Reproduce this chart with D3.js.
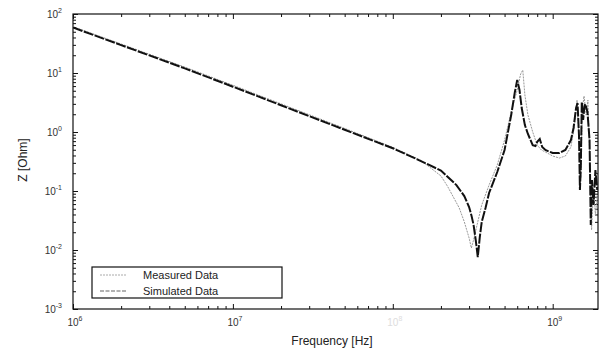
<!DOCTYPE html>
<html>
<head>
<meta charset="utf-8">
<script src="https://cdn.jsdelivr.net/npm/d3@7"></script>
<style>
  body { margin: 0; background: #fff; }
  text { font-family: 'Liberation Sans', Arial, sans-serif; }
</style>
</head>
<body>
<div id="container"></div>
<script>
// Simulated impedance (Hz, Ohm).
const freqSim = [1e6, 2e6, 5e6, 1e7, 2e7, 5e7, 1e8, 1.5e8, 2e8, 2.5e8, 2.8e8, 3.0e8,
  3.1e8, 3.2e8, 3.3e8, 3.4e8, 3.5e8, 3.6e8, 3.8e8, 4.0e8, 4.5e8, 5.0e8, 5.5e8, 5.8e8, 6.0e8,
  6.2e8, 6.4e8, 6.7e8, 7.0e8, 7.5e8, 7.8e8, 8.0e8, 8.3e8, 8.6e8, 9.0e8,
  1.0e9, 1.1e9, 1.2e9, 1.3e9, 1.35e9, 1.4e9, 1.43e9, 1.46e9, 1.48e9, 1.5e9,
  1.52e9, 1.55e9, 1.58e9, 1.6e9, 1.65e9, 1.7e9, 1.73e9, 1.76e9, 1.8e9, 1.85e9, 1.9e9];
const zSim = [59, 29.7, 12.0, 5.86, 2.84, 1.09, 0.53, 0.322, 0.222, 0.126, 0.082, 0.0536,
  0.039, 0.0266, 0.0148, 0.0076, 0.0166, 0.030, 0.0515, 0.0925, 0.21, 0.495, 1.94, 4.77, 7.6,
  5.15, 2.55, 1.31, 0.925, 0.60, 0.58, 0.68, 0.76, 0.557, 0.495,
  0.44, 0.44, 0.495, 0.73, 1.17, 2.55, 3.1, 0.89, 0.104, 0.276,
  3.22, 1.6, 2.76, 2.98, 2.18, 0.73, 0.0266, 0.153, 0.058, 0.227, 0.104];

// Measured impedance (Hz, Ohm).
const freqMeas = [1e6, 2e6, 5e6, 1e7, 2e7, 5e7, 1e8, 1.5e8, 2e8, 2.2e8, 2.6e8, 2.8e8,
  3.0e8, 3.1e8, 3.2e8, 3.4e8, 3.6e8, 4.0e8, 4.5e8, 5.0e8, 5.5e8, 6.0e8,
  6.3e8, 6.5e8, 6.7e8, 7.0e8, 7.5e8, 8.0e8, 8.5e8, 9.0e8,
  1.0e9, 1.1e9, 1.2e9, 1.3e9, 1.37e9, 1.42e9, 1.47e9, 1.5e9, 1.53e9, 1.57e9,
  1.62e9, 1.66e9, 1.7e9, 1.75e9, 1.8e9, 1.85e9, 1.9e9];
const zMeas = [61, 31, 12.6, 6.2, 3.0, 1.15, 0.55, 0.33, 0.18, 0.12, 0.052, 0.03,
  0.016, 0.0108, 0.0148, 0.03, 0.058, 0.126, 0.276, 0.73, 2.18, 5.15,
  9.6, 11.2, 4.24, 1.94, 1.0, 0.60, 0.495, 0.458,
  0.392, 0.362, 0.392, 0.557, 1.31, 3.48, 0.495, 0.166, 2.36, 4.07,
  1.94, 3.48, 0.495, 0.0218, 0.104, 0.039, 0.0855];

const xDecades = [6, 7, 8, 9];
const yDecades = [-3, -2, -1, 0, 1, 2];
const legendLabels = ['Measured Data', 'Simulated Data'];

const W = 603, H = 354;
const margin = { top: 14, right: 5, bottom: 45, left: 73 },
  width = W - margin.left - margin.right,
  height = H - margin.top - margin.bottom;

const svg = d3.select('#container').append('svg')
  .attr('width', W).attr('height', H);
const g = svg.append('g').attr('transform', `translate(${margin.left},${margin.top})`);

const x = d3.scaleLog().domain([1e6, 1.92e9]).range([0, width]);
const y = d3.scaleLog().domain([1e-3, 1e2]).range([height, 0]);

// minor + major tick values
const minors = (decs, dom) => {
  const out = [];
  decs.forEach(k => d3.range(2, 10).forEach(m => {
    const v = m * Math.pow(10, k);
    if (v > dom[0] && v < dom[1]) out.push(v);
  }));
  return out;
};
const xMaj = xDecades.map(k => Math.pow(10, k));
const yMaj = yDecades.map(k => Math.pow(10, k));
const xMin = minors([6, 7, 8, 9], x.domain());
const yMin = minors([-3, -2, -1, 0, 1], y.domain());

function drawAxis(axisGen, scale, vals, size, tr) {
  g.append('g').attr('transform', tr)
    .call(axisGen(scale).tickValues(vals).tickSize(size).tickFormat(''))
    .call(a => a.select('.domain').remove())
    .selectAll('line').attr('stroke', '#111');
}
drawAxis(d3.axisBottom, x, xMaj, -5, `translate(0,${height})`);
drawAxis(d3.axisBottom, x, xMin, -3, `translate(0,${height})`);
drawAxis(d3.axisTop, x, xMaj, -5, 'translate(0,0)');
drawAxis(d3.axisTop, x, xMin, -3, 'translate(0,0)');
drawAxis(d3.axisLeft, y, yMaj, -5, 'translate(0,0)');
drawAxis(d3.axisLeft, y, yMin, -3, 'translate(0,0)');
drawAxis(d3.axisRight, y, yMaj, -5, `translate(${width},0)`);
drawAxis(d3.axisRight, y, yMin, -3, `translate(${width},0)`);

// tick labels 10^k
const xl = g.append('g').selectAll('text').data(xDecades).enter().append('text')
  .attr('x', d => x(Math.pow(10, d)) + 2)
  .attr('y', height + 17)
  .attr('text-anchor', 'middle')
  .attr('font-size', 10).attr('fill', d => d === 8 ? '#ddd' : '#333');
xl.append('tspan').text('10');
xl.append('tspan').attr('dy', -5).attr('font-size', 7).text(d => d);

const yl = g.append('g').selectAll('text').data(yDecades).enter().append('text')
  .attr('x', -11)
  .attr('y', d => y(Math.pow(10, d)) + 4)
  .attr('text-anchor', 'end')
  .attr('font-size', 10).attr('fill', '#333');
yl.append('tspan').text('10');
yl.append('tspan').attr('dy', -5).attr('font-size', 7).text(d => d);

// frame
g.append('rect').attr('width', width).attr('height', height)
  .attr('fill', 'none').attr('stroke', '#111').attr('stroke-width', 1.2);

// axis titles
svg.append('text').attr('x', 332).attr('y', 345).attr('text-anchor', 'middle')
  .attr('font-size', 12).attr('fill', '#222').text('Frequency [Hz]');
svg.append('text').attr('transform', 'translate(27,160) rotate(-90)')
  .attr('text-anchor', 'middle').attr('font-size', 12).attr('fill', '#222').text('Z [Ohm]');

// curves
g.append('clipPath').attr('id', 'clip').append('rect')
  .attr('width', width).attr('height', height);
const line = d3.line().x(d => x(d[0])).y(d => y(d[1]));
const meas = freqMeas.map((f, i) => [f, zMeas[i]]);
const sim = freqSim.map((f, i) => [f, zSim[i]]);

const plot = g.append('g').attr('clip-path', 'url(#clip)');
plot.append('path').datum(meas).attr('d', line)
  .attr('fill', 'none').attr('stroke', '#999').attr('stroke-width', 1)
  .attr('stroke-dasharray', '2,1');
plot.append('path').datum(sim).attr('d', line)
  .attr('fill', 'none').attr('stroke', '#111').attr('stroke-width', 2)
  .attr('stroke-dasharray', '10,1.5');

// legend
const lg = svg.append('g').attr('transform', 'translate(92,267)');
lg.append('rect').attr('width', 190).attr('height', 31)
  .attr('fill', '#fff').attr('stroke', '#111').attr('stroke-width', 1.2);
const styles = [
  { stroke: '#aaa', w: 1, dash: '2,1' },
  { stroke: '#666', w: 1.2, dash: '4,1.5' }
];
legendLabels.forEach((t, i) => {
  const yy = 8 + i * 16;
  lg.append('line').attr('x1', 8).attr('x2', 35).attr('y1', yy).attr('y2', yy)
    .attr('stroke', styles[i].stroke).attr('stroke-width', styles[i].w)
    .attr('stroke-dasharray', styles[i].dash);
  lg.append('text').attr('x', 51).attr('y', yy + 4).attr('font-size', 11)
    .attr('fill', '#222').text(t);
});
</script>
</body>
</html>
